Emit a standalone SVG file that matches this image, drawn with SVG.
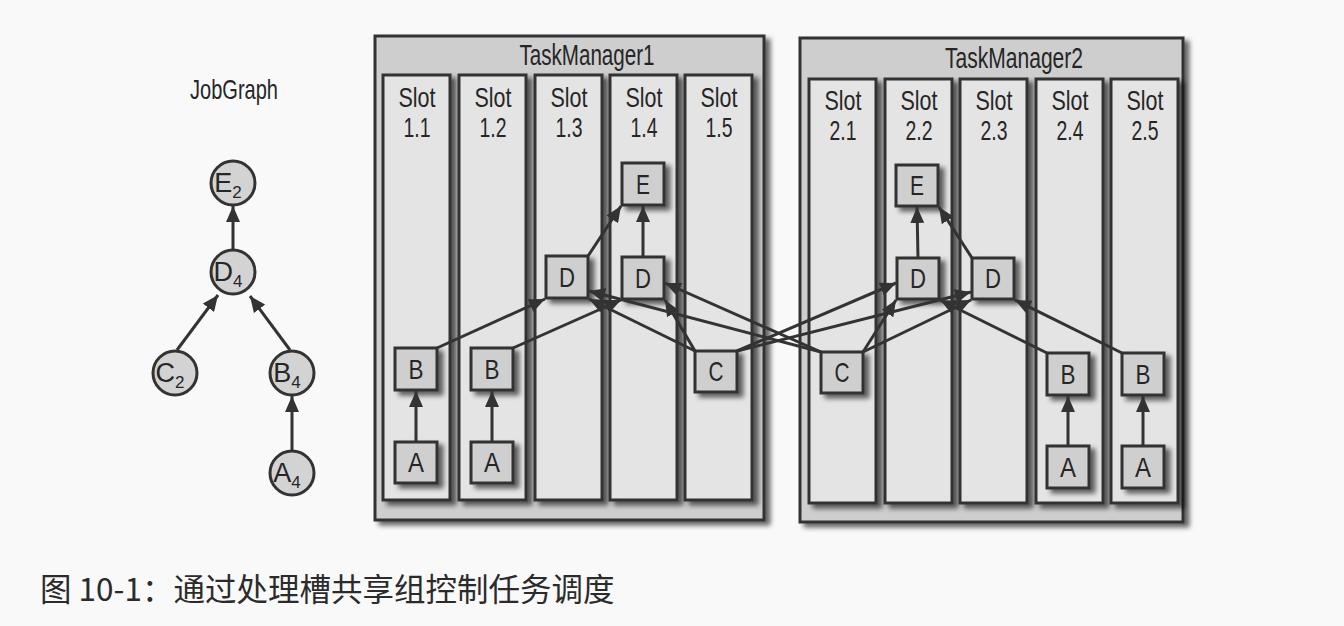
<svg xmlns="http://www.w3.org/2000/svg" width="1344" height="626" viewBox="0 0 1344 626">
<style>
.tm{fill:#cecece;stroke:#333;stroke-width:3}
.slot{fill:#e4e4e4;stroke:#333;stroke-width:3}
.nd{fill:#cfcfcf;stroke:#333;stroke-width:3}
.cir{fill:#d3d3d3;stroke:#333;stroke-width:3}
.t{font-family:"Liberation Sans Narrow","Liberation Sans",Arial,sans-serif;fill:#262626;text-anchor:middle}
.lbl{font-size:28px}
.nl{font-size:28px}
.e{stroke:#333;stroke-width:3;fill:none;marker-end:url(#ah)}
.cap{font-family:"Noto Sans CJK SC","Noto Sans",sans-serif;font-size:31.5px;fill:#2b2b2b}
</style>
<defs>
<filter id="sh" x="-20%" y="-20%" width="150%" height="150%">
<feGaussianBlur in="SourceAlpha" stdDeviation="2.5"/>
<feOffset dx="5" dy="4" result="o"/>
<feComponentTransfer><feFuncA type="linear" slope="0.6"/></feComponentTransfer>
<feMerge><feMergeNode/><feMergeNode in="SourceGraphic"/></feMerge>
</filter>
<marker id="ah" markerUnits="userSpaceOnUse" markerWidth="17" markerHeight="14" refX="16" refY="7" orient="auto">
<path d="M0,0 L16,7 L0,14 z" fill="#333"/>
</marker>
</defs>
<rect width="1344" height="626" fill="#f9f9f9"/>

<!-- JobGraph -->
<g id="jobgraph">
<text class="t" x="234" y="99" font-size="28" textLength="88" lengthAdjust="spacingAndGlyphs">JobGraph</text>
</g>
<g id="jg-edges">
<line class="e" x1="233" y1="250" x2="233" y2="206"/>
<line class="e" x1="177" y1="350" x2="218" y2="295"/>
<line class="e" x1="290" y1="350" x2="250" y2="296"/>
<line class="e" x1="292" y1="451" x2="292" y2="396"/>
</g>
<g id="jg-E"><circle class="cir" cx="233" cy="183" r="22"/><text class="t" x="228" y="192" font-size="27">E<tspan font-size="17" dy="6">2</tspan></text></g>
<g id="jg-D"><circle class="cir" cx="233" cy="272" r="22"/><text class="t" x="228" y="281" font-size="27">D<tspan font-size="17" dy="6">4</tspan></text></g>
<g id="jg-C"><circle class="cir" cx="175" cy="373" r="22"/><text class="t" x="170" y="382" font-size="27">C<tspan font-size="17" dy="6">2</tspan></text></g>
<g id="jg-B"><circle class="cir" cx="292" cy="373" r="22"/><text class="t" x="287" y="382" font-size="27">B<tspan font-size="17" dy="6">4</tspan></text></g>
<g id="jg-A"><circle class="cir" cx="292" cy="473" r="22"/><text class="t" x="287" y="482" font-size="27">A<tspan font-size="17" dy="6">4</tspan></text></g>

<!-- TaskManager1 -->
<g id="tm1">
<rect class="tm" x="375" y="36" width="389" height="484" filter="url(#sh)"/>
<text class="t" x="587" y="65" font-size="30" textLength="135" lengthAdjust="spacingAndGlyphs">TaskManager1</text>
</g>
<g id="slot11"><rect class="slot" x="383" y="75" width="67" height="425" filter="url(#sh)"/><text class="t lbl" x="417" y="107" textLength="37" lengthAdjust="spacingAndGlyphs">Slot</text><text class="t lbl" x="417" y="137" textLength="27" lengthAdjust="spacingAndGlyphs">1.1</text></g>
<g id="slot12"><rect class="slot" x="459" y="75" width="67" height="425" filter="url(#sh)"/><text class="t lbl" x="493" y="107" textLength="37" lengthAdjust="spacingAndGlyphs">Slot</text><text class="t lbl" x="493" y="137" textLength="27" lengthAdjust="spacingAndGlyphs">1.2</text></g>
<g id="slot13"><rect class="slot" x="535" y="75" width="67" height="425" filter="url(#sh)"/><text class="t lbl" x="569" y="107" textLength="37" lengthAdjust="spacingAndGlyphs">Slot</text><text class="t lbl" x="569" y="137" textLength="27" lengthAdjust="spacingAndGlyphs">1.3</text></g>
<g id="slot14"><rect class="slot" x="610" y="75" width="67" height="425" filter="url(#sh)"/><text class="t lbl" x="644" y="107" textLength="37" lengthAdjust="spacingAndGlyphs">Slot</text><text class="t lbl" x="644" y="137" textLength="27" lengthAdjust="spacingAndGlyphs">1.4</text></g>
<g id="slot15"><rect class="slot" x="685" y="75" width="67" height="425" filter="url(#sh)"/><text class="t lbl" x="719" y="107" textLength="37" lengthAdjust="spacingAndGlyphs">Slot</text><text class="t lbl" x="719" y="137" textLength="27" lengthAdjust="spacingAndGlyphs">1.5</text></g>

<!-- TaskManager2 -->
<g id="tm2">
<rect class="tm" x="800" y="38" width="383" height="484" filter="url(#sh)"/>
<text class="t" x="1014" y="68" font-size="30" textLength="138" lengthAdjust="spacingAndGlyphs">TaskManager2</text>
</g>
<g id="slot21"><rect class="slot" x="809" y="79" width="67" height="424" filter="url(#sh)"/><text class="t lbl" x="843" y="110" textLength="37" lengthAdjust="spacingAndGlyphs">Slot</text><text class="t lbl" x="843" y="140" textLength="27" lengthAdjust="spacingAndGlyphs">2.1</text></g>
<g id="slot22"><rect class="slot" x="885" y="79" width="67" height="424" filter="url(#sh)"/><text class="t lbl" x="919" y="110" textLength="37" lengthAdjust="spacingAndGlyphs">Slot</text><text class="t lbl" x="919" y="140" textLength="27" lengthAdjust="spacingAndGlyphs">2.2</text></g>
<g id="slot23"><rect class="slot" x="960" y="79" width="67" height="424" filter="url(#sh)"/><text class="t lbl" x="994" y="110" textLength="37" lengthAdjust="spacingAndGlyphs">Slot</text><text class="t lbl" x="994" y="140" textLength="27" lengthAdjust="spacingAndGlyphs">2.3</text></g>
<g id="slot24"><rect class="slot" x="1036" y="79" width="67" height="424" filter="url(#sh)"/><text class="t lbl" x="1070" y="110" textLength="37" lengthAdjust="spacingAndGlyphs">Slot</text><text class="t lbl" x="1070" y="140" textLength="27" lengthAdjust="spacingAndGlyphs">2.4</text></g>
<g id="slot25"><rect class="slot" x="1111" y="79" width="67" height="424" filter="url(#sh)"/><text class="t lbl" x="1145" y="110" textLength="37" lengthAdjust="spacingAndGlyphs">Slot</text><text class="t lbl" x="1145" y="140" textLength="27" lengthAdjust="spacingAndGlyphs">2.5</text></g>

<!-- task nodes -->
<g id="B11"><rect class="nd" x="395" y="348" width="42" height="42" filter="url(#sh)"/><text class="t nl" x="416" y="379" textLength="15" lengthAdjust="spacingAndGlyphs">B</text></g>
<g id="A11"><rect class="nd" x="395" y="442" width="42" height="41" filter="url(#sh)"/><text class="t nl" x="416" y="472" textLength="16" lengthAdjust="spacingAndGlyphs">A</text></g>
<g id="B12"><rect class="nd" x="471" y="348" width="42" height="42" filter="url(#sh)"/><text class="t nl" x="492" y="379" textLength="15" lengthAdjust="spacingAndGlyphs">B</text></g>
<g id="A12"><rect class="nd" x="471" y="442" width="42" height="41" filter="url(#sh)"/><text class="t nl" x="492" y="472" textLength="16" lengthAdjust="spacingAndGlyphs">A</text></g>
<g id="D13"><rect class="nd" x="546" y="256" width="42" height="42" filter="url(#sh)"/><text class="t nl" x="567" y="287" textLength="16" lengthAdjust="spacingAndGlyphs">D</text></g>
<g id="E14"><rect class="nd" x="622" y="163" width="42" height="42" filter="url(#sh)"/><text class="t nl" x="643" y="194" textLength="14" lengthAdjust="spacingAndGlyphs">E</text></g>
<g id="D14"><rect class="nd" x="622" y="257" width="42" height="42" filter="url(#sh)"/><text class="t nl" x="643" y="288" textLength="16" lengthAdjust="spacingAndGlyphs">D</text></g>
<g id="C15"><rect class="nd" x="695" y="351" width="42" height="41" filter="url(#sh)"/><text class="t nl" x="716" y="381" textLength="15" lengthAdjust="spacingAndGlyphs">C</text></g>
<g id="C21"><rect class="nd" x="821" y="352" width="42" height="41" filter="url(#sh)"/><text class="t nl" x="842" y="382" textLength="15" lengthAdjust="spacingAndGlyphs">C</text></g>
<g id="E22"><rect class="nd" x="896" y="165" width="42" height="41" filter="url(#sh)"/><text class="t nl" x="917" y="195" textLength="14" lengthAdjust="spacingAndGlyphs">E</text></g>
<g id="D22"><rect class="nd" x="897" y="258" width="42" height="41" filter="url(#sh)"/><text class="t nl" x="918" y="288" textLength="16" lengthAdjust="spacingAndGlyphs">D</text></g>
<g id="D23"><rect class="nd" x="972" y="258" width="42" height="41" filter="url(#sh)"/><text class="t nl" x="993" y="288" textLength="16" lengthAdjust="spacingAndGlyphs">D</text></g>
<g id="B24"><rect class="nd" x="1047" y="353" width="42" height="42" filter="url(#sh)"/><text class="t nl" x="1068" y="384" textLength="15" lengthAdjust="spacingAndGlyphs">B</text></g>
<g id="A24"><rect class="nd" x="1047" y="446" width="42" height="42" filter="url(#sh)"/><text class="t nl" x="1068" y="477" textLength="16" lengthAdjust="spacingAndGlyphs">A</text></g>
<g id="B25"><rect class="nd" x="1122" y="353" width="42" height="42" filter="url(#sh)"/><text class="t nl" x="1143" y="384" textLength="15" lengthAdjust="spacingAndGlyphs">B</text></g>
<g id="A25"><rect class="nd" x="1122" y="446" width="42" height="42" filter="url(#sh)"/><text class="t nl" x="1143" y="477" textLength="16" lengthAdjust="spacingAndGlyphs">A</text></g>

<!-- connectors -->
<g id="connectors">
<line class="e" x1="416" y1="442" x2="416" y2="391"/>
<line class="e" x1="492" y1="442" x2="492" y2="391"/>
<line class="e" x1="1068" y1="446" x2="1068" y2="396"/>
<line class="e" x1="1143" y1="446" x2="1143" y2="396"/>
<line class="e" x1="643" y1="257" x2="643" y2="206"/>
<line class="e" x1="588" y1="256" x2="621" y2="206"/>
<line class="e" x1="918" y1="258" x2="917" y2="207"/>
<line class="e" x1="972" y1="258" x2="939" y2="207"/>
<line class="e" x1="437" y1="348" x2="545" y2="299"/>
<line class="e" x1="513" y1="348" x2="621" y2="300"/>
<line class="e" x1="1047" y1="353" x2="940" y2="300"/>
<line class="e" x1="1122" y1="353" x2="1015" y2="300"/>
<line class="e" x1="695" y1="351" x2="589" y2="299"/>
<line class="e" x1="695" y1="351" x2="665" y2="300"/>
<line class="e" x1="821" y1="352" x2="665" y2="283"/>
<line class="e" x1="821" y1="352" x2="589" y2="291"/>
<line class="e" x1="737" y1="351" x2="896" y2="283"/>
<line class="e" x1="737" y1="351" x2="971" y2="292"/>
<line class="e" x1="863" y1="352" x2="896" y2="300"/>
<line class="e" x1="863" y1="352" x2="971" y2="300"/>
</g>

<text class="cap" x="40" y="601">图 10-1：通过处理槽共享组控制任务调度</text>
</svg>
